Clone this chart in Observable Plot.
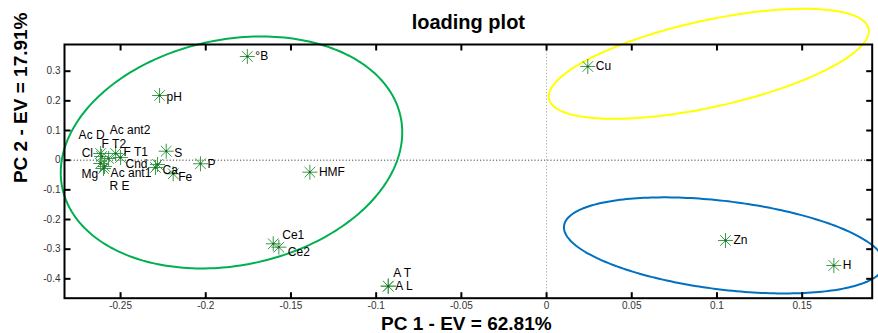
<!DOCTYPE html>
<html><head><meta charset="utf-8">
<script src="https://cdn.jsdelivr.net/npm/d3@7"></script>
<script src="https://cdn.jsdelivr.net/npm/@observablehq/plot@0.6"></script>
<style>body{margin:0;background:#fff;}</style>
</head><body><div id="chart"></div>
<script>
// Loadings
const variables = ["°B","pH","Ac D","Ac ant2","F T2","Cl","F T1","S","P","Cnd","Ca","Fe","Mg","Ac ant1","R E","HMF","Ce1","Ce2","A T","A L","Cu","Zn","H"];
const pc1 = [-0.1756,-0.2271,-0.2617,-0.2570,-0.2529,-0.2611,-0.2500,-0.2232,-0.2031,-0.2295,-0.2283,-0.2191,-0.2600,-0.2617,-0.2594,-0.1389,-0.1604,-0.1571,-0.0929,-0.0929,0.0242,0.1050,0.1686];
const pc2 = [0.3496,0.2181,0.0226,0.0057,0.0226,0.0125,0.0091,0.0303,-0.0121,-0.0246,-0.0145,-0.0459,-0.0280,-0.0111,-0.0212,-0.0405,-0.2819,-0.2933,-0.4248,-0.4248,0.3159,-0.2707,-0.3550];
// label offsets in pixels [dx, dy]
const labelOffsets = [[8,0],[7,2],[-22,-18],[1,-28],[-14,-9],[-20,-3],[3,-5],[8,2],[7,0],[-30,-3],[5,6],[5,3],[-22,6],[10,10],[5,20],[9,0],[9,-9],[9,5],[5,-13],[7,0],[8,0],[8,0],[9,0]];

const xTicks = [-0.25,-0.2,-0.15,-0.1,-0.05,0,0.05,0.1,0.15];
const yTicks = [-0.4,-0.3,-0.2,-0.1,0,0.1,0.2,0.3];

// Group ellipses: centre, half-extents, correlation
const groupCenterX = [-0.1849, 0.0952, 0.1042];
const groupCenterY = [0.026, 0.325, -0.2873];
const groupSpreadX = [0.1002, 0.0939, 0.0940];
const groupSpreadY = [0.391, 0.1854, 0.1620];
const groupCorr = [0.174, 0.594, -0.376];
const groupColors = ["#00b050", "#ffff00", "#0070c0"];

const points = variables.map((name, i) => ({name, x: pc1[i], y: pc2[i], dx: labelOffsets[i][0], dy: labelOffsets[i][1]}));

const ellipses = groupCenterX.map((cx, g) => {
  const cy = groupCenterY[g], sx = groupSpreadX[g], sy = groupSpreadY[g], r = groupCorr[g];
  return d3.range(0, 241).map(k => {
    const t = k / 240 * 2 * Math.PI;
    return {x: cx + sx * Math.cos(t), y: cy + sy * (r * Math.cos(t) + Math.sqrt(1 - r * r) * Math.sin(t))};
  });
});

const star8 = {
  draw(ctx, size) {
    const r = Math.sqrt(size / Math.PI), d = r * Math.SQRT1_2;
    ctx.moveTo(-r, 0); ctx.lineTo(r, 0);
    ctx.moveTo(0, -r); ctx.lineTo(0, r);
    ctx.moveTo(-d, -d); ctx.lineTo(d, d);
    ctx.moveTo(-d, d); ctx.lineTo(d, -d);
  }
};

const W = 878, H = 333, mT = 44, mL = 64, mR = 6.3, mB = 35.3;
const frameW = W - mL - mR, frameH = H - mT - mB, tickLen = 6;
const fmt = d => String(+d.toFixed(2));
const yMin = -0.4653, yMax = 0.390, xMin = -0.2829, xMax = 0.1911;
const tyLen = tickLen / frameH * (yMax - yMin), txLen = tickLen / frameW * (xMax - xMin);

const chart = Plot.plot({
  width: W, height: H,
  marginTop: mT, marginLeft: mL, marginRight: mR, marginBottom: mB,
  style: {fontFamily: "'Liberation Sans', Arial, sans-serif", background: "#fff", overflow: "visible"},
  x: {domain: [xMin, xMax]},
  y: {domain: [yMin, yMax]},
  marks: [
    Plot.ruleY([0], {stroke: "#444", strokeDasharray: "1.2,2"}),
    Plot.ruleX([0], {stroke: "#aaa", strokeDasharray: "1.2,2"}),
    ...ellipses.map((e, g) => Plot.line(e, {x: "x", y: "y", stroke: groupColors[g], strokeWidth: 2})),
    Plot.dot(points, {x: "x", y: "y", symbol: star8, r: 7.5, stroke: "#3a9a4a", strokeWidth: 1}),
    Plot.dot(points, {x: "x", y: "y", r: 1.1, fill: "#1b5e20"}),
    ...points.map(p => Plot.text([p], {x: "x", y: "y", text: "name", dx: p.dx, dy: p.dy, textAnchor: "start", fontSize: 12, fill: "#000"})),
    Plot.frame({stroke: "#000", strokeWidth: 2}),
    Plot.link(xTicks, {x1: d => d, x2: d => d, y1: yMin, y2: yMin + tyLen, stroke: "#000", strokeWidth: 2}),
    Plot.link(xTicks, {x1: d => d, x2: d => d, y1: yMax, y2: yMax - tyLen, stroke: "#000", strokeWidth: 2}),
    Plot.link(yTicks, {y1: d => d, y2: d => d, x1: xMin, x2: xMin + txLen, stroke: "#000", strokeWidth: 2}),
    Plot.link(yTicks, {y1: d => d, y2: d => d, x1: xMax, x2: xMax - txLen, stroke: "#000", strokeWidth: 2}),
    Plot.axisX({anchor: "bottom", ticks: xTicks, tickSize: 0, tickPadding: 4, tickFormat: fmt, fontSize: 10, fill: "#333", label: null}),
    Plot.axisY({anchor: "left", ticks: yTicks, tickSize: 0, tickPadding: 4, tickFormat: fmt, fontSize: 10, fill: "#333", label: null}),
    Plot.text(["loading plot"], {frameAnchor: "top", text: d => d, dy: -16, lineAnchor: "bottom", fontSize: 20, fontWeight: "bold", fill: "#000"}),
    Plot.text(["PC 1 - EV = 62.81%"], {frameAnchor: "bottom", text: d => d, dx: -2, dy: 25.5, lineAnchor: "middle", fontSize: 19, fontWeight: "bold", fill: "#000"}),
    Plot.text(["PC 2 - EV = 17.91%"], {frameAnchor: "left", text: d => d, rotate: -90, dx: -44, dy: 11.7, lineAnchor: "middle", fontSize: 19, fontWeight: "bold", fill: "#000"})
  ]
});
document.getElementById("chart").appendChild(chart);
</script>
</body></html>
